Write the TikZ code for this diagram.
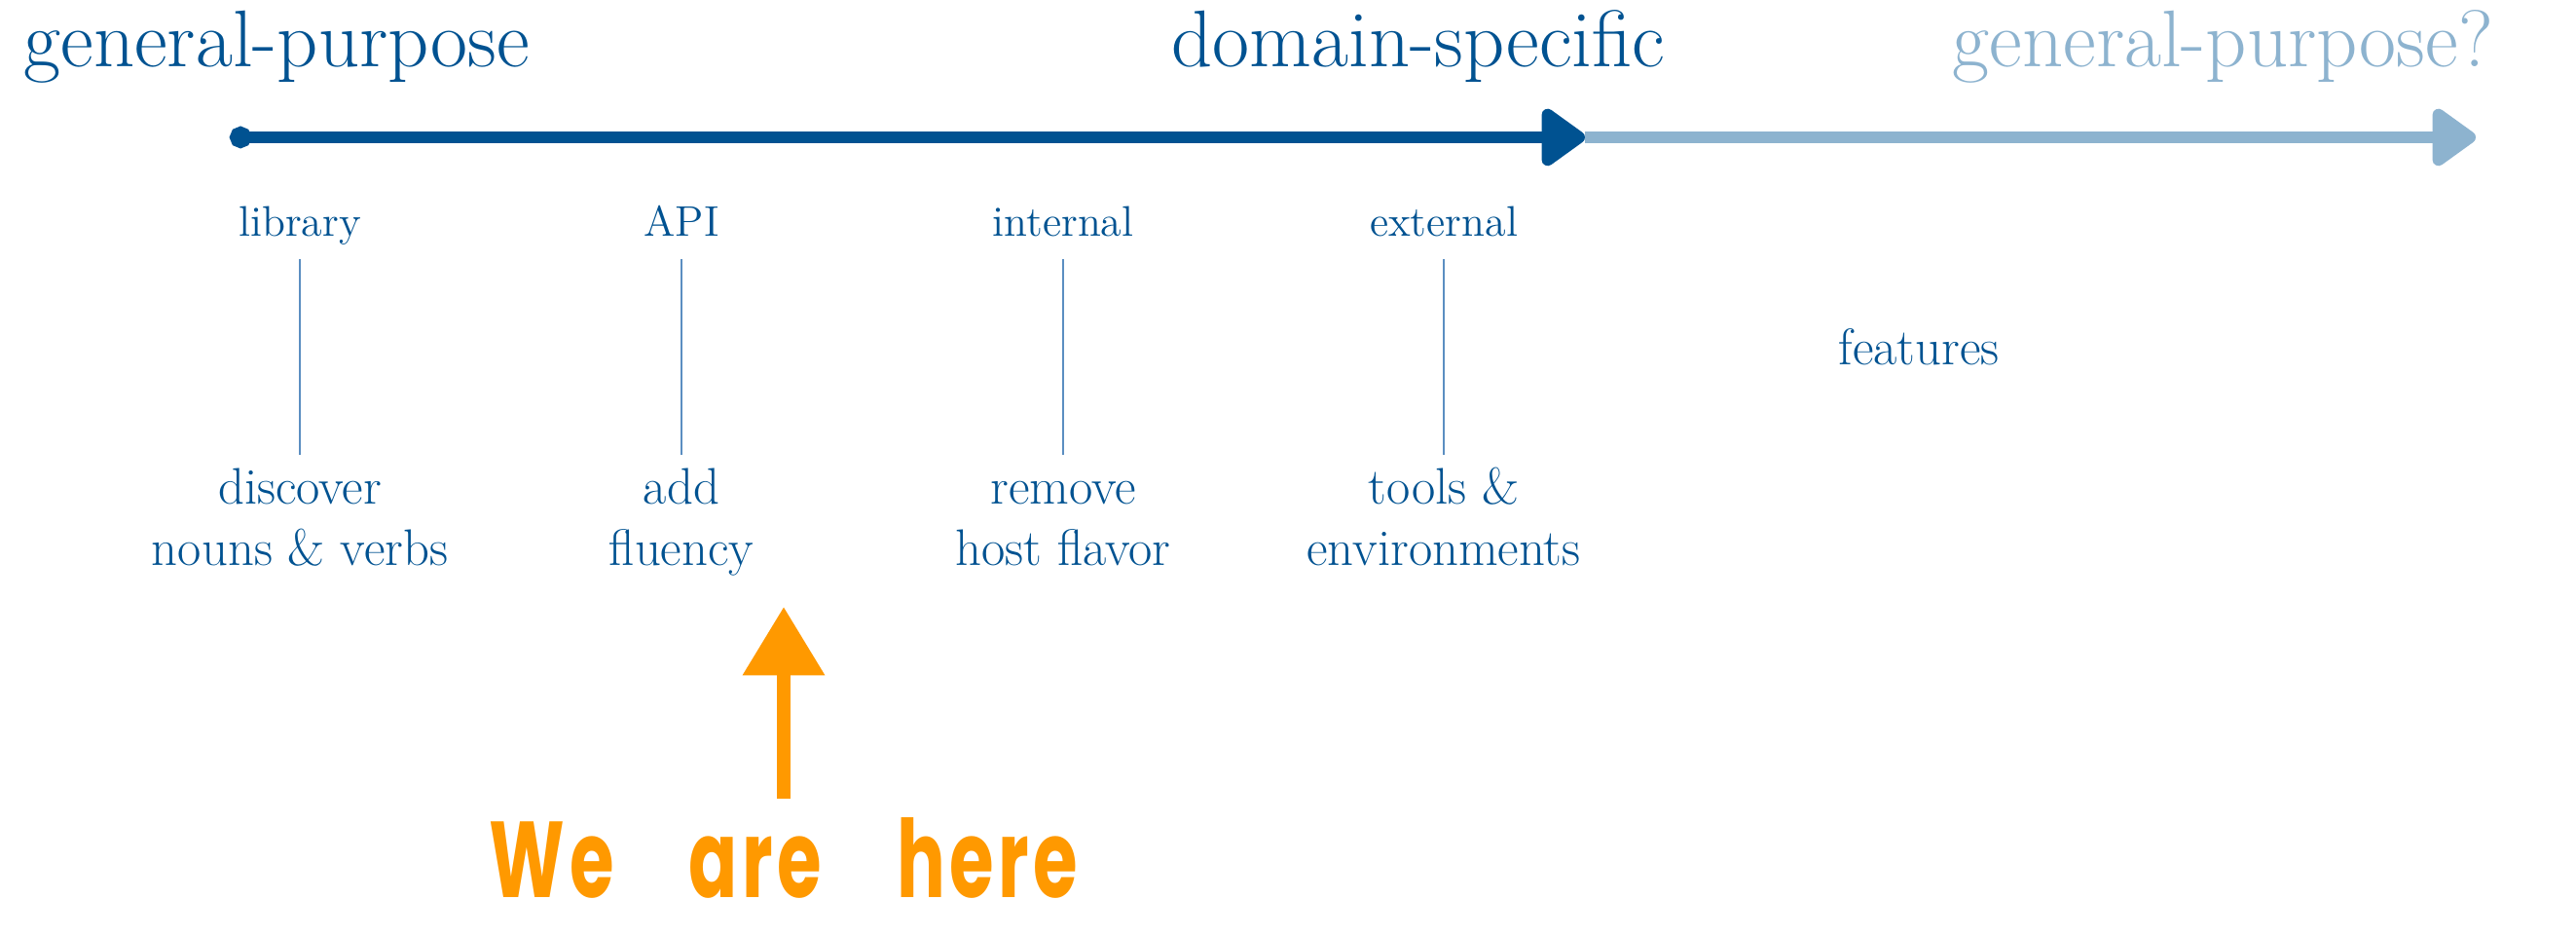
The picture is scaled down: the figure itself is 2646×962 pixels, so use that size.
\documentclass[tikz,border=0pt]{standalone}
\usepackage{fontspec}
\newfontfamily\handfont[LetterSpace=6]{Poppins}
\usetikzlibrary{arrows.meta}
\definecolor{dsblue}{HTML}{005291}
\definecolor{dslight}{HTML}{8DB3CF}
\definecolor{dstick}{HTML}{5B8EC1}
\definecolor{dsorange}{HTML}{FF9900}

\begin{document}
\begin{tikzpicture}[x=0.01cm,y=-0.01cm,
  heading/.style={font=\fontsize{23.5}{28}\selectfont, anchor=base west, inner sep=0},
  kind/.style={font=\fontsize{12.5}{15}\selectfont, text=dsblue, anchor=base, inner xsep=0, inner ysep=6.3pt, text height=9pt, text depth=0pt},
  goal/.style={font=\fontsize{15}{18}\selectfont, text=dsblue, align=center, anchor=north, inner xsep=0, inner ysep=1.6pt},
  tick/.style={draw=dstick, line width=0.8pt},
  axis/.style={line width=3.6pt},
  head/.style={-{Triangle[length=14pt,width=19pt,round]}}]
\useasboundingbox (0,0) rectangle (2646,962);

% spectrum
\coordinate (gp) at (236,141);
\coordinate (ds) at (1628,141);
\coordinate (gq) at (2543,141);
\draw[axis, head, dslight] (ds) -- (gq);
\draw[axis, dsblue, {Circle[length=6.3pt]}-{Triangle[length=14pt,width=19pt,round]}] (gp) -- (ds);

\node[heading, text=dsblue] (gen) at (24,69) {general-purpose};
\node[heading, text=dsblue] (dom) at (1203,69) {domain-specific};
\node[heading, text=dslight] (gen2) at (2005,69) {general-purpose?};

% kinds of DSL
\node[kind] (lib) at (308,243) {library};
\node[kind] (api) at (700,243) {API};
\node[kind] (int) at (1092,243) {internal};
\node[kind] (ext) at (1483,243) {external};

\node[goal] (disc) at (308,467) {\strut discover\\nouns \& verbs};
\node[goal] (add) at (700,467) {\strut add\\fluency};
\node[goal] (rem) at (1092,467) {\strut remove\\host flavor};
\node[goal] (tool) at (1483,467) {\strut tools \&\\environments};

\draw[tick] (lib) -- (disc);
\draw[tick] (api) -- (add);
\draw[tick] (int) -- (rem);
\draw[tick] (ext) -- (tool);

\node[goal, anchor=base] (feat) at (1971,375) {features};

% marker
\node[font=\handfont\bfseries\fontsize{21}{26}\selectfont, text=dsorange, anchor=base, inner sep=2pt] (here) at (805,922)
  {\scalebox{1}[1.5]{We\hspace{22pt}are\hspace{22pt}here}};
\coordinate (spot) at (805,623);
\draw[dsorange, line width=4pt, shorten <=3.5pt, -{Triangle[length=20pt,width=23pt]}] (here) -- (spot);
\end{tikzpicture}
\end{document}
